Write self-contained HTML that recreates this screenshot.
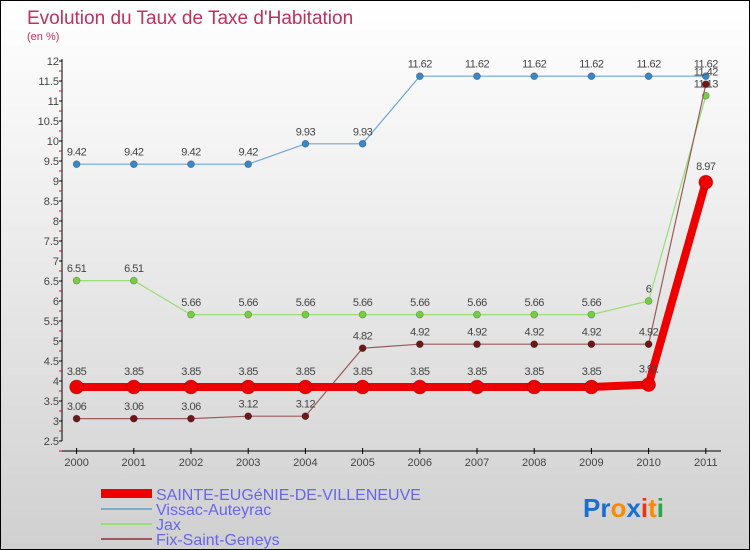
<!DOCTYPE html>
<html><head><meta charset="utf-8"><style>
body{margin:0}
#c{position:relative;width:748px;height:548px;border:1px solid #000;background:linear-gradient(#fff,#f2f2f2 30%,#d0d0d0);font-family:"Liberation Sans",sans-serif;overflow:hidden}
</style></head><body>
<div id="c">
<svg id="s" width="748" height="548" xmlns="http://www.w3.org/2000/svg" font-family="Liberation Sans, sans-serif">
<text x="26" y="23" font-size="19" fill="#c0305a">Evolution du Taux de Taxe d'Habitation</text>
<text x="26" y="39" font-size="11" fill="#c0305a">(en %)</text>
<g id="axes"></g><g id="series"></g>
<g>
<rect x="100" y="488" width="51" height="9" fill="#e00"/>
<text x="155" y="499" font-size="16" fill="#6666ee">SAINTE-EUGéNIE-DE-VILLENEUVE</text>
<line x1="100" y1="508" x2="151" y2="508" stroke="#7aaccc" stroke-width="2"/>
<text x="155" y="514" font-size="16" fill="#6666ee">Vissac-Auteyrac</text>
<line x1="100" y1="523" x2="151" y2="523" stroke="#99dd77" stroke-width="2"/>
<text x="155" y="529" font-size="16" fill="#6666ee">Jax</text>
<line x1="100" y1="538" x2="151" y2="538" stroke="#9a5a5a" stroke-width="2"/>
<text x="155" y="544" font-size="16" fill="#6666ee">Fix-Saint-Geneys</text>
</g>
<text x="582" y="516" font-size="26" font-weight="bold"><tspan fill="#1a6fd0">Pr</tspan><tspan fill="#ff8800">o</tspan><tspan fill="#1a6fd0">x</tspan><tspan fill="#ee3311">i</tspan><tspan fill="#ff8800">t</tspan><tspan fill="#22aa44">i</tspan></text>
</svg>
</div>
<script>
const years=[2000,2001,2002,2003,2004,2005,2006,2007,2008,2009,2010,2011];
const sainte=[3.85,3.85,3.85,3.85,3.85,3.85,3.85,3.85,3.85,3.85,3.91,8.97];
const vissac=[9.42,9.42,9.42,9.42,9.93,9.93,11.62,11.62,11.62,11.62,11.62,11.62];
const jax=[6.51,6.51,5.66,5.66,5.66,5.66,5.66,5.66,5.66,5.66,6,11.13];
const fix=[3.06,3.06,3.06,3.12,3.12,4.82,4.92,4.92,4.92,4.92,4.92,11.42];
const yTicks=[2.5,3,3.5,4,4.5,5,5.5,6,6.5,7,7.5,8,8.5,9,9.5,10,10.5,11,11.5,12];
const NS="http://www.w3.org/2000/svg";
const X=i=>75.6+i*57.2, Y=v=>440-(v-2.5)*40;
function mk(p,t,a){const e=document.createElementNS(NS,t);for(const k in a)e.setAttribute(k,a[k]);p.appendChild(e);return e;}
const ax=document.getElementById('axes'), sg=document.getElementById('series');
let l=mk(ax,'line',{x1:61,y1:58,x2:61,y2:440,stroke:'#000'});


l=mk(ax,'line',{x1:61,y1:450,x2:720,y2:450,stroke:'#000'});


yTicks.forEach(v=>{
 mk(ax,'line',{x1:58,y1:Y(v),x2:61,y2:Y(v),stroke:'#000'});
 mk(ax,'line',{x1:58,y1:Y(v)+10,x2:61,y2:Y(v)+10,stroke:'#e00'});
 const t=mk(ax,'text',{x:58,y:Y(v)+4,'font-size':11,fill:'#444','text-anchor':'end'});
 t.textContent=v;
 
 
});
years.forEach((y,i)=>{
 mk(ax,'line',{x1:X(i),y1:447,x2:X(i),y2:453,stroke:'#000'});
 const t=mk(ax,'text',{x:X(i),y:465,'font-size':11,fill:'#444','text-anchor':'middle'});
 t.textContent=y;
 
 
});
function series(d,name,line,dot,w,r,lab){
 const g=mk(sg,'g',{});
 
 
 mk(g,'polyline',{points:d.map((v,i)=>X(i)+','+Y(v)).join(' '),fill:'none',stroke:line,'stroke-width':w});
 d.forEach((v,i)=>{
  const c=mk(g,'circle',{cx:X(i),cy:Y(v),r:r,fill:dot,stroke:'rgba(0,0,0,0.25)','stroke-width':0.8});
  
  
  const t=mk(g,'text',{x:X(i),y:Y(v)-(r+5),'font-size':11,fill:'#444','text-anchor':'middle','letter-spacing':'-0.5'});
  t.textContent=v;
  
  
 });
}
series(vissac,'vissac','#6fa6d6','#3a86c6',1.2,3.5);
series(jax,'jax','#99dd77','#77cc44',1.2,3.5);
series(fix,'fix','#9a5a5a','#6a1818',1.2,3.5);
series(sainte,'sainte','#ee0000','#ee0000',8,7);
</script>
</body></html>
